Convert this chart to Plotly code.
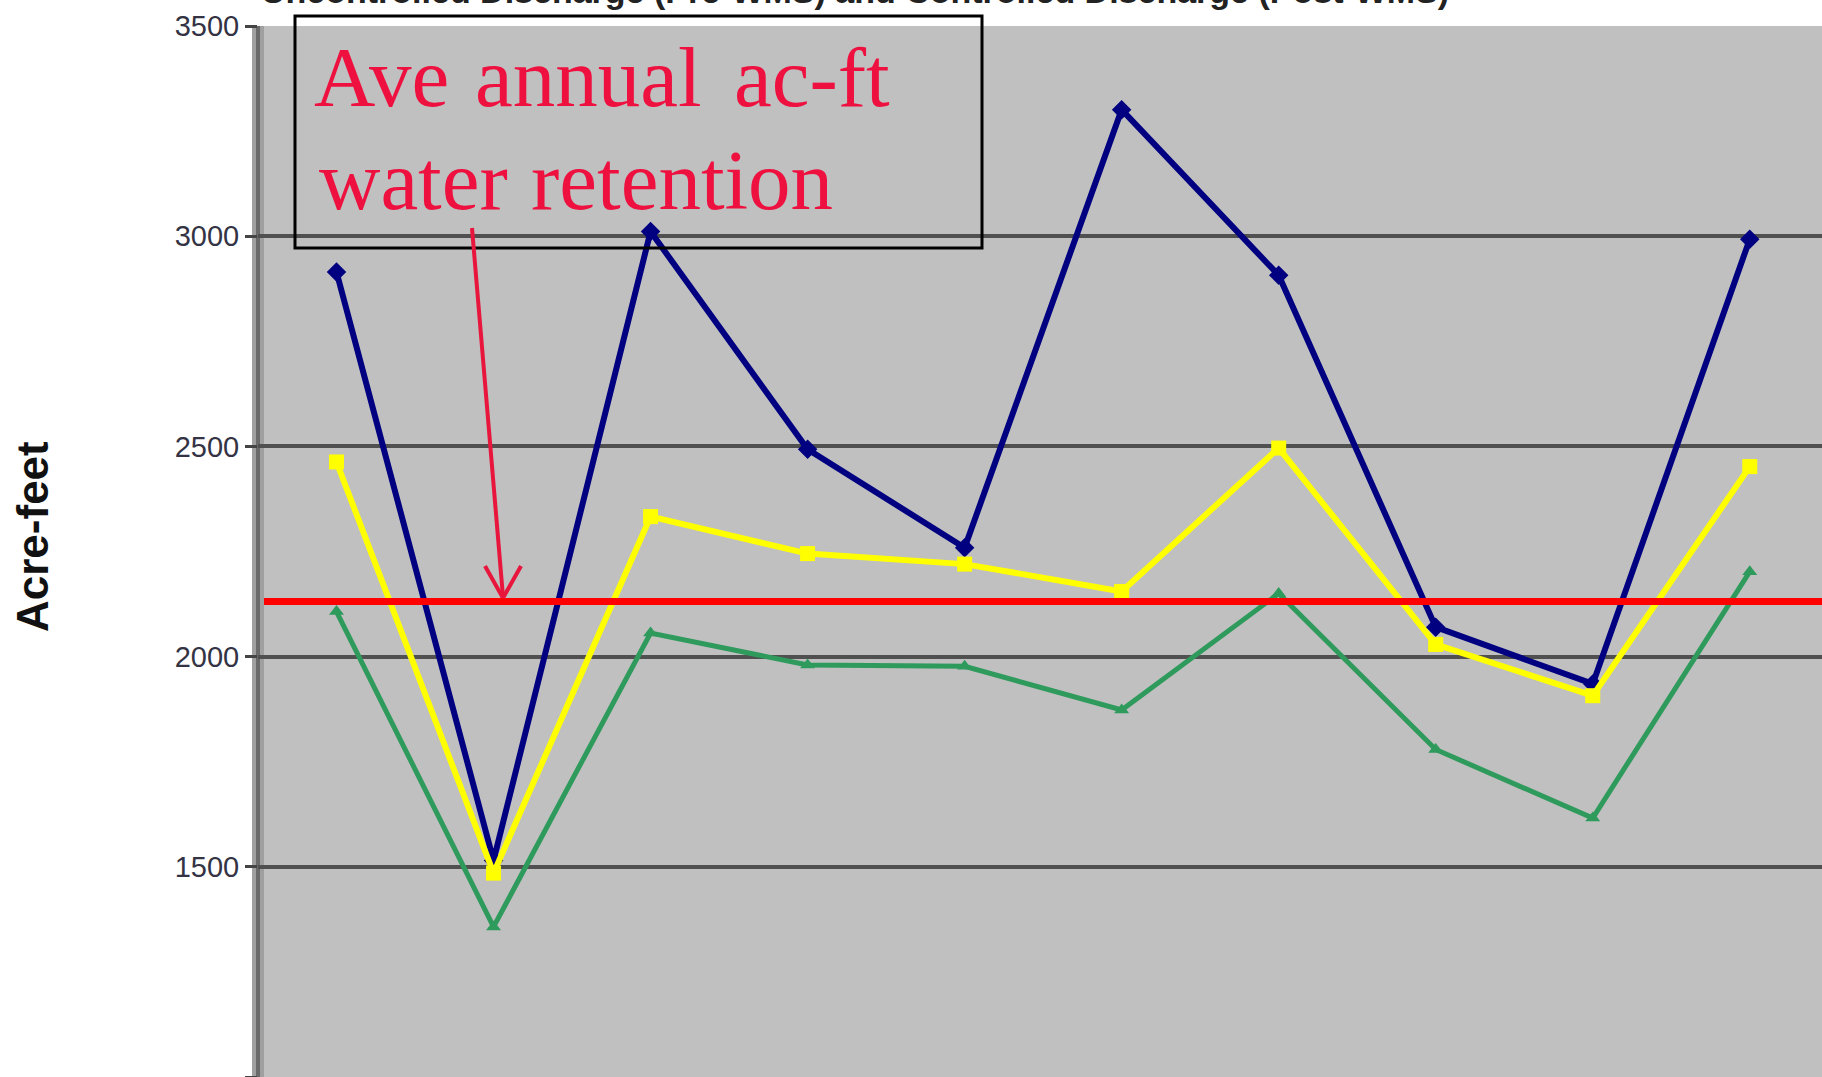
import plotly.graph_objects as go

# ---------------- data ----------------
categories = ["Year 1", "Year 2", "Year 3", "Year 4", "Year 5",
              "Year 6", "Year 7", "Year 8", "Year 9", "Year 10"]
pre_wms = [2915, 1515, 3011, 2493, 2259, 3301, 2907, 2070, 1935, 2993]      # navy diamonds
post_wms_a = [2463, 1485, 2333, 2245, 2220, 2155, 2496, 2029, 1907, 2452]   # yellow squares
post_wms_b = [2107, 1357, 2056, 1980, 1977, 1873, 2150, 1779, 1616, 2202]   # green triangles
ave_retention = 2131
y_ticks = [1000, 1500, 2000, 2500, 3000, 3500]

title_text = "Uncontrolled Discharge (Pre-WMS) and Controlled Discharge (Post-WMS)"
y_title = "Acre-feet"
note_line1 = ["Ave", "annual", "ac-ft"]
note_line2 = ["water", "retention"]

# ---------------- layout geometry ----------------
W, H = 1822, 1077
ML, MT = 258, 26
PW, PH = W - ML, H - MT


def px(x):
    return (x - ML) / PW


def py(y):
    return (H - y) / PH


RED_TXT = "#EE1140"

fig = go.Figure()

fig.add_trace(go.Scatter(
    x=categories, y=post_wms_b, mode="lines+markers", name="Post-WMS B",
    line=dict(color="#2E9A5C", width=5),
    marker=dict(symbol="triangle-up", size=13, color="#2E9A5C")))
fig.add_trace(go.Scatter(
    x=categories, y=pre_wms, mode="lines+markers", name="Pre-WMS",
    line=dict(color="#000080", width=6),
    marker=dict(symbol="diamond", size=15, color="#000080")))
fig.add_trace(go.Scatter(
    x=categories, y=post_wms_a, mode="lines+markers", name="Post-WMS A",
    line=dict(color="#FFFF00", width=6),
    marker=dict(symbol="square", size=15, color="#FFFF00")))

shapes = []
# left wall band
shapes.append(dict(type="rect", xref="paper", yref="paper",
                   x0=px(252), x1=px(264), y0=0, y1=1,
                   fillcolor="#A0A0A0", line=dict(width=0), layer="below"))
shapes.append(dict(type="line", xref="paper", yref="paper",
                   x0=px(258), x1=px(258), y0=0, y1=1,
                   line=dict(color="#6A6A6A", width=4), layer="below"))
# average retention line
shapes.append(dict(type="line", xref="paper", yref="y",
                   x0=px(264), x1=1, y0=ave_retention, y1=ave_retention,
                   line=dict(color="#FF0000", width=7), layer="above"))
# text box
shapes.append(dict(type="rect", xref="paper", yref="paper",
                   x0=px(295), x1=px(982), y0=py(248), y1=py(16),
                   line=dict(color="#000000", width=3), layer="above"))
# arrow shaft and head
shapes.append(dict(type="line", xref="paper", yref="paper",
                   x0=px(472), y0=py(228), x1=px(503), y1=py(597),
                   line=dict(color="#E8163C", width=4), layer="above"))
shapes.append(dict(type="line", xref="paper", yref="paper",
                   x0=px(485), y0=py(566), x1=px(503), y1=py(598),
                   line=dict(color="#E8163C", width=4), layer="above"))
shapes.append(dict(type="line", xref="paper", yref="paper",
                   x0=px(521), y0=py(566), x1=px(503), y1=py(598),
                   line=dict(color="#E8163C", width=4), layer="above"))

annotations = []
# top (cut-off) title
annotations.append(dict(text=title_text, xref="paper", yref="paper",
                        x=px(855), y=py(12), xanchor="center", yanchor="bottom",
                        showarrow=False,
                        font=dict(family="Liberation Sans, Arial", size=34,
                                  color="#222222", weight="bold")))
# y-axis title
annotations.append(dict(text=y_title, xref="paper", yref="paper",
                        x=px(32), y=py(537), xanchor="center", yanchor="middle",
                        textangle=-90, showarrow=False,
                        font=dict(family="Liberation Sans, Arial", size=44,
                                  color="#111111", weight="bold")))
# boxed note, word by word
line1_x = [312, 473, 732]
line2_x = [317, 529]
for word, xl in zip(note_line1, line1_x):
    annotations.append(dict(text=word, xref="paper", yref="paper",
                            x=px(xl), y=py(126), xanchor="left", yanchor="bottom",
                            showarrow=False,
                            font=dict(family="Liberation Serif, Times New Roman",
                                      size=85, color=RED_TXT)))
for word, xl in zip(note_line2, line2_x):
    annotations.append(dict(text=word, xref="paper", yref="paper",
                            x=px(xl), y=py(229), xanchor="left", yanchor="bottom",
                            showarrow=False,
                            font=dict(family="Liberation Serif, Times New Roman",
                                      size=85, color=RED_TXT)))

fig.update_layout(
    width=W, height=H, autosize=False,
    margin=dict(l=ML, r=0, t=MT, b=0, pad=0, autoexpand=False),
    paper_bgcolor="#FFFFFF", plot_bgcolor="#C0C0C0",
    showlegend=False,
    shapes=shapes, annotations=annotations,
    xaxis=dict(type="category", range=[-0.5, 9.46], showgrid=False,
               showticklabels=False, ticks="", zeroline=False, showline=False,
               automargin=False),
    yaxis=dict(range=[1000, 3500], tickvals=y_ticks,
               ticktext=[str(v) for v in y_ticks], automargin=False,
               showgrid=True, gridcolor="#505050", gridwidth=4,
               zeroline=False, showline=False,
               ticks="outside", ticklen=12, tickwidth=3, tickcolor="#444444",
               tickfont=dict(family="Liberation Sans, Arial", size=29, color="#333344")),
)

# remove the browser's default 8px body margin so the figure fills the window exactly
fig.write_html("out.html",
               config={"displayModeBar": False},
               post_script="document.body.style.margin='0';"
                           "document.body.style.overflow='hidden';")
